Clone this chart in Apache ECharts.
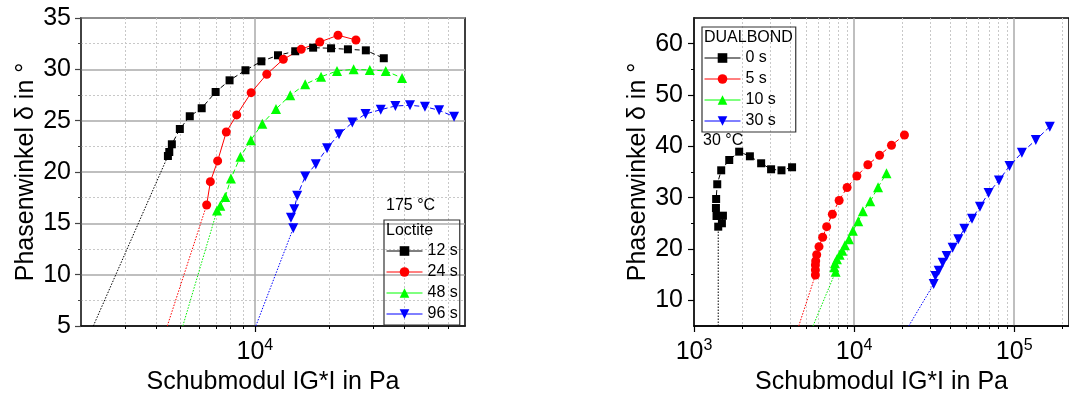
<!DOCTYPE html>
<html>
<head>
<meta charset="utf-8">
<script src="https://cdn.jsdelivr.net/npm/echarts@6/dist/echarts.min.js"></script>
<style>
  html, body { margin: 0; padding: 0; background: #fff; }
  #chart { width: 1069px; height: 403px; }
</style>
</head>
<body>
<div id="chart"></div>
<script>
// ---- Loctite, 175 °C: complex shear modulus |G*| (Pa) vs. phase angle δ (°) ----
const loctite12G = [4472, 4529, 4638, 4994, 5475, 6114, 6957, 7914, 9170, 10627, 12395, 14537, 17157, 20253, 23680, 27950, 33000];
const loctite12Phase = [21.56, 21.95, 22.70, 24.19, 25.43, 26.21, 27.79, 28.93, 29.91, 30.78, 31.37, 31.76, 32.11, 32.05, 31.95, 31.85, 31.08];
const loctite24G = [6402, 6625, 7088, 7678, 8457, 9665, 11170, 13014, 15364, 18247, 21600, 25500];
const loctite24Phase = [16.79, 19.06, 21.08, 23.90, 25.56, 27.73, 29.52, 30.98, 31.95, 32.66, 33.32, 32.86];
const loctite48G = [7047, 7263, 7605, 8017, 8750, 9638, 10715, 12167, 13883, 15937, 18468, 21403, 24955, 29000, 33610, 39080];
const loctite48Phase = [16.24, 16.72, 17.57, 19.37, 21.49, 23.10, 24.71, 26.14, 27.47, 28.54, 29.28, 29.84, 30.00, 29.94, 29.84, 29.16];
const loctite96G = [14271, 13972, 14403, 14806, 15937, 17591, 19517, 21800, 24660, 27870, 32090, 36740, 42070, 48310, 55100, 63260];
const loctite96Phase = [14.52, 15.55, 16.37, 17.69, 19.55, 20.75, 22.31, 23.68, 24.81, 25.65, 26.07, 26.43, 26.50, 26.36, 26.01, 25.39];
// extrapolated dotted lead-in lines: [G at δ = 5°, G at first point]
const loctite12FitG = [2241, 4472];
const loctite12FitPhase = [5, 21.56];
const loctite24FitG = [4446, 6402];
const loctite24FitPhase = [5, 16.79];
const loctite48FitG = [5134, 7047];
const loctite48FitPhase = [5, 16.24];
const loctite96FitG = [10092, 14271];
const loctite96FitPhase = [5, 14.52];

// ---- DUALBOND, 30 °C ----
const dual0G = [1417, 1494, 1516, 1383, 1371, 1375, 1397, 1479, 1660, 1915, 2234, 2627, 3031, 3519, 4098];
const dual0Phase = [24.35, 25.01, 26.49, 26.43, 27.99, 29.74, 32.61, 35.33, 37.34, 38.96, 38.06, 36.70, 35.53, 35.33, 35.92];
const dual5G = [5733, 5733, 5733, 5756, 5840, 6036, 6364, 6741, 7315, 8064, 9044, 10409, 12190, 14418, 17124, 20634];
const dual5Phase = [14.94, 15.91, 16.88, 17.66, 18.89, 20.45, 22.28, 24.35, 26.78, 29.45, 31.98, 34.22, 36.42, 38.26, 40.20, 42.21];
const dual10G = [7669, 7527, 7593, 7812, 8122, 8443, 8765, 9283, 9829, 10621, 11345, 12617, 14112, 15941];
const dual10Phase = [15.58, 16.44, 17.22, 17.99, 18.89, 19.67, 20.72, 21.89, 23.57, 25.40, 27.35, 29.29, 32.04, 34.75];
const dual30G = [31430, 32190, 33760, 35760, 37860, 41270, 44780, 48810, 54520, 61130, 69170, 80300, 93480, 111700, 136500, 166900];
const dual30Phase = [13.18, 14.74, 15.77, 17.33, 18.64, 20.25, 21.89, 23.96, 25.90, 28.24, 30.91, 33.35, 36.17, 38.76, 41.24, 43.83];
const dual0FitG = [1417, 1417];
const dual0FitPhase = [5, 24.35];
const dual5FitG = [4510, 5733];
const dual5FitPhase = [5, 14.94];
const dual10FitG = [5538, 7669];
const dual10FitPhase = [5, 15.58];
const dual30FitG = [21950, 31430];
const dual30FitPhase = [5, 13.18];

// axis ticks
const leftMajorTicks = [10000];
const leftMinorTicks = [3000, 4000, 5000, 6000, 7000, 8000, 9000, 20000, 30000, 40000, 50000, 60000];
const rightMajorTicks = [1000, 10000, 100000];
const rightMinorTicks = [2000, 3000, 4000, 5000, 6000, 7000, 8000, 9000,
  20000, 30000, 40000, 50000, 60000, 70000, 80000, 90000, 200000];
const rightPhaseTicks = [10, 20, 30, 40, 50, 60];
const rightPhaseMinor = [15, 25, 35, 45, 55];

const FONT = '"Liberation Sans", Arial, sans-serif';
const zip = (xs, ys) => xs.map((x, i) => [x, ys[i]]);

const powLabel = {
  fontFamily: FONT, color: '#000', margin: 12,
  formatter: v => '{b|10}{s|' + Math.round(Math.log10(v)) + '}',
  rich: {
    b: { fontSize: 25, fontFamily: FONT, color: '#000' },
    s: { fontSize: 16, fontFamily: FONT, color: '#000', padding: [0, 0, 12, 0] }
  }
};

function mainX(gridIndex, min, max, majors, nameGap) {
  return {
    type: 'log', logBase: 10, gridIndex, min, max,
    name: 'Schubmodul IG*I in Pa', nameLocation: 'middle', nameGap,
    nameTextStyle: { fontSize: 25, fontFamily: FONT, color: '#000' },
    axisLine: { show: true, lineStyle: { color: '#000', width: 1.5 } },
    axisTick: { show: true, inside: false, length: 6, customValues: majors, lineStyle: { color: '#000', width: 1.2 } },
    axisLabel: Object.assign({ customValues: majors }, powLabel),
    splitLine: { show: true, lineStyle: { color: '#aaaaaa', width: 1.5 } },
    minorTick: { show: false }, minorSplitLine: { show: false }
  };
}
function minorX(gridIndex, min, max, minors) {
  return {
    type: 'log', logBase: 10, gridIndex, min, max, position: 'bottom',
    axisLine: { show: false },
    axisTick: { show: true, inside: false, length: 3, customValues: minors, lineStyle: { color: '#000', width: 1 } },
    axisLabel: { show: false },
    splitLine: { show: true, lineStyle: { color: '#c8c8c8', width: 1, type: [2, 2] } }
  };
}

function dataSeries(name, xi, yi, xs, ys, color, symbol, size, dashed, rotate) {
  return {
    name, type: 'line', xAxisIndex: xi, yAxisIndex: yi,
    data: zip(xs, ys), symbol, symbolSize: size, symbolRotate: rotate || 0,
    itemStyle: { color, borderWidth: 0 },
    lineStyle: { color, width: 1, type: dashed ? [5, 3] : 'solid' },
    z: 5, animation: false
  };
}
function fitSeries(name, xi, yi, xs, ys, color) {
  return {
    name, type: 'line', xAxisIndex: xi, yAxisIndex: yi,
    data: zip(xs, ys), symbol: 'none', silent: true,
    lineStyle: { color, width: 1, type: [1.5, 1.5] },
    z: 4, animation: false
  };
}

const legendCommon = {
  orient: 'vertical', borderColor: '#333', borderWidth: 1.2,
  itemWidth: 36, itemHeight: 12, itemGap: 5,
  textStyle: { fontSize: 16, fontFamily: FONT, color: '#000' },
  lineStyle: { type: 'solid', width: 1 },
  selectedMode: false
};
const noteStyle = { fontSize: 16, fontWeight: 'normal', fontFamily: FONT, color: '#000' };

const option = {
  backgroundColor: '#fff',
  animation: false,
  textStyle: { fontFamily: FONT },
  title: [
    { text: '175 °C', left: 386, top: 198, padding: 0, textStyle: noteStyle },
    { text: 'Loctite', left: 386, top: 223, padding: 0, textStyle: noteStyle },
    { text: 'DUALBOND', left: 704, top: 30, padding: 0, textStyle: noteStyle },
    { text: '30 °C', left: 703, top: 133, padding: 0, textStyle: noteStyle }
  ],
  legend: [
    Object.assign({}, legendCommon, { left: 384, top: 220, padding: [23, 2, 3, 2], data: ['12 s', '24 s', '48 s', '96 s'] }),
    Object.assign({}, legendCommon, { left: 702, top: 27, padding: [23, 20, 3, 2], data: ['0 s', '5 s', '10 s', '30 s'] })
  ],
  grid: [
    { left: 81, top: 18, width: 384, height: 308, show: true, borderColor: '#000', borderWidth: 1.5 },
    { left: 694, top: 18, width: 376, height: 308, show: true, borderColor: '#000', borderWidth: 1.5 }
  ],
  xAxis: [
    mainX(0, 2000, 70000, leftMajorTicks, 44),
    minorX(0, 2000, 70000, leftMinorTicks),
    mainX(1, 1000, 220000, rightMajorTicks, 40),
    minorX(1, 1000, 220000, rightMinorTicks)
  ],
  yAxis: [
    {
      type: 'value', gridIndex: 0, min: 5, max: 35, interval: 5,
      name: 'Phasenwinkel δ in °', nameLocation: 'middle', nameGap: 42,
      nameTextStyle: { fontSize: 25, fontFamily: FONT, color: '#000' },
      axisLine: { show: true, lineStyle: { color: '#444', width: 1.5 } },
      axisTick: { show: true, inside: false, length: 6, lineStyle: { color: '#444', width: 1.2 } },
      minorTick: { show: true, splitNumber: 2, length: 3, lineStyle: { color: '#444' } },
      axisLabel: { fontSize: 25, fontFamily: FONT, color: '#000', margin: 10 },
      splitLine: { show: true, lineStyle: { color: '#aaaaaa', width: 1.5 } },
      minorSplitLine: { show: true, lineStyle: { color: '#c8c8c8', width: 1, type: [2, 2] } }
    },
    {
      type: 'value', gridIndex: 1, min: 5, max: 65, interval: 5,
      name: 'Phasenwinkel δ in °', nameLocation: 'middle', nameGap: 43,
      nameTextStyle: { fontSize: 25, fontFamily: FONT, color: '#000' },
      axisLine: { show: true, lineStyle: { color: '#000', width: 1.5 } },
      axisTick: { show: true, inside: false, length: 6, customValues: rightPhaseTicks, lineStyle: { color: '#000', width: 1.2 } },
      axisLabel: { fontSize: 25, fontFamily: FONT, color: '#000', margin: 11, customValues: rightPhaseTicks },
      splitLine: { show: false }
    },
    {
      type: 'value', gridIndex: 1, min: 5, max: 65, interval: 5, position: 'left',
      axisLine: { show: false },
      axisTick: { show: true, inside: false, length: 3, customValues: rightPhaseMinor, lineStyle: { color: '#000', width: 1 } },
      axisLabel: { show: false },
      splitLine: { show: false }
    }
  ],
  series: [
    fitSeries('12 s fit', 0, 0, loctite12FitG, loctite12FitPhase, '#000'),
    fitSeries('24 s fit', 0, 0, loctite24FitG, loctite24FitPhase, '#ff0000'),
    fitSeries('48 s fit', 0, 0, loctite48FitG, loctite48FitPhase, '#00ee00'),
    fitSeries('96 s fit', 0, 0, loctite96FitG, loctite96FitPhase, '#0000ff'),
    dataSeries('12 s', 0, 0, loctite12G, loctite12Phase, '#000000', 'rect', 8, true),
    dataSeries('24 s', 0, 0, loctite24G, loctite24Phase, '#ff0000', 'circle', 9, false),
    dataSeries('48 s', 0, 0, loctite48G, loctite48Phase, '#00ff00', 'triangle', 10, true),
    dataSeries('96 s', 0, 0, loctite96G, loctite96Phase, '#0000ff', 'triangle', 10, true, 180),

    fitSeries('0 s fit', 2, 1, dual0FitG, dual0FitPhase, '#000'),
    fitSeries('5 s fit', 2, 1, dual5FitG, dual5FitPhase, '#ff0000'),
    fitSeries('10 s fit', 2, 1, dual10FitG, dual10FitPhase, '#00ee00'),
    fitSeries('30 s fit', 2, 1, dual30FitG, dual30FitPhase, '#0000ff'),
    dataSeries('0 s', 2, 1, dual0G, dual0Phase, '#000000', 'rect', 8, true),
    dataSeries('5 s', 2, 1, dual5G, dual5Phase, '#ff0000', 'circle', 9, true),
    dataSeries('10 s', 2, 1, dual10G, dual10Phase, '#00ff00', 'triangle', 10, true),
    dataSeries('30 s', 2, 1, dual30G, dual30Phase, '#0000ff', 'triangle', 10, true, 180)
  ]
};

const chart = echarts.init(document.getElementById('chart'), null, { renderer: 'canvas' });
chart.setOption(option);
</script>
</body>
</html>
